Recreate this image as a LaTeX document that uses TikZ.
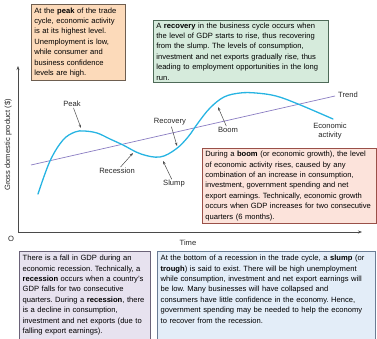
\documentclass[tikz,border=0pt]{standalone}
\usepackage{fontspec}
\setmainfont{Liberation Sans}
\usetikzlibrary{positioning, calc}
\usetikzlibrary{arrows.meta}
\usepackage{xcolor}

\definecolor{peakfill}{HTML}{FCDABA}
\definecolor{peakline}{HTML}{6E5E50}
\definecolor{recofill}{HTML}{D6EBDC}
\definecolor{recoline}{HTML}{4E6A58}
\definecolor{boomfill}{HTML}{FCE3DB}
\definecolor{boomline}{HTML}{9A5048}
\definecolor{recefill}{HTML}{E7E2EF}
\definecolor{receline}{HTML}{6A6278}
\definecolor{slumfill}{HTML}{E3EDF8}
\definecolor{slumline}{HTML}{6A7C94}
\definecolor{gdpcurve}{HTML}{27B4E2}
\definecolor{trendline}{HTML}{8A7CC2}
\definecolor{axisgray}{HTML}{4A4A4A}

\newcommand\notefont{\fontsize{7.6}{10.4}\selectfont}
\frenchspacing

\begin{document}
\begin{tikzpicture}[
        x=1pt, y=-1pt,
        note/.style={rectangle, draw, line width=0.7pt, anchor=north west, align=left, inner xsep=3pt, inner ysep=2pt, font=\notefont},
        notetext/.style={align=left, inner sep=0pt, font=\notefont},
        lbl/.style={font=\notefont, inner sep=1pt, text=black!85},
        pointer/.style={draw, axisgray, line width=0.5pt, -{Stealth[length=3.5pt, width=2.5pt]}},
        axis/.style={draw, axisgray, line width=0.6pt, -{Stealth[length=4pt, width=3pt]}}
    ]
    \useasboundingbox (0,0) rectangle (377,339);

    % Note boxes above and beside the graph
    \node[note, fill=peakfill, draw=peakline, text width=88pt, minimum height=76pt] (peaknote) at (31,4)
        {At the \textbf{peak} of the trade\\ cycle, economic activity\\ is at its highest level.\\ Unemployment is low,\\ while consumer and\\ business confidence\\ levels are high.};
    \node[note, fill=recofill, draw=recoline, text width=169pt, minimum height=62pt] (reconote) at (153,20)
        {A \textbf{recovery} in the business cycle occurs when\\ the level of GDP starts to rise, thus recovering\\ from the slump. The levels of consumption,\\ investment and net exports gradually rise, thus\\ leading to employment opportunities in the long\\ run.};
    \node[note, fill=boomfill, draw=boomline, text width=168pt, minimum height=75pt] (boomnote) at (202,148)
        {During a \textbf{boom} (or economic growth), the level\\ of economic activity rises, caused by any\\ combination of an increase in consumption,\\ investment, government spending and net\\ export earnings. Technically, economic growth\\ occurs when GDP increases for two consecutive\\ quarters (6 months).};

    % Axes
    \coordinate (origin) at (18,232);
    \coordinate (ytip) at (18,66);
    \coordinate (xtip) at (362,232);
    \path[axis] (origin) -- (ytip);
    \path[axis] (origin) -- (xtip);
    \node[lbl] (olbl) at (11,239) {O};
    \node[lbl] (timelbl) at (188,243) {Time};
    \node[lbl, rotate=90] (gdplbl) at (8,145) {Gross domestic product (\$)};

    % Trend line
    \coordinate (trendstart) at (31,165);
    \coordinate (trendend) at (335,96);
    \draw[trendline, line width=0.7pt] (trendstart) -- (trendend);
    \node[lbl, anchor=west] (trendlbl) at (337,95) {Trend};

    % Economic activity curve
    \draw[gdpcurve, line width=1.3pt, line cap=round] plot[smooth, tension=0.6] coordinates
        {(38,194) (50,161) (63,140) (75,132) (84,131) (97,133) (110,139) (123,145) (141,154) (160,157) (176,149) (188,137) (198,123) (210,108) (224,97) (240,93) (256,93) (276,96) (298,104) (333,119)};
    \node[lbl, align=center, font=\fontsize{7.6}{9.6}\selectfont] (actlbl) at (330,131) {Economic\\ activity};

    % Stage labels pointing at the curve
    \coordinate (peakpt) at (81,128);
    \coordinate (recept) at (133,153);
    \coordinate (slumppt) at (163,161);
    \coordinate (recopt) at (177,146);
    \coordinate (boompt) at (218,107);
    \node[lbl] (peaklbl) at (72,104) {Peak};
    \node[lbl] (recelbl) at (117,171) {Recession};
    \node[lbl] (slumplbl) at (174,184) {Slump};
    \node[lbl] (recolbl) at (170,122) {Recovery};
    \node[lbl] (boomlbl) at (228,130) {Boom};
    \path[pointer] (peaklbl) -- (peakpt);
    \path[pointer] (recelbl) -- (recept);
    \path[pointer] (slumplbl) -- (slumppt);
    \path[pointer] (recolbl) -- (recopt);
    \path[pointer] (boomlbl) -- (boompt);

    % Note boxes below the graph
    \node[note, fill=recefill, draw=receline, minimum width=131pt, minimum height=95pt] (recenote) at (19,251) {};
    \node[notetext, text width=126pt, below right=4pt and 3.5pt of recenote.north west] (recetext)
        {There is a fall in GDP during an\\ economic recession. Technically, a\\ \textbf{recession} occurs when a country's\\ GDP falls for two consecutive\\ quarters. During a \textbf{recession}, there\\ is a decline in consumption,\\ investment and net exports (due to\\ falling export earnings).};
    \node[note, fill=slumfill, draw=slumline, minimum width=218pt, minimum height=95pt] (slumpnote) at (157,251) {};
    \node[notetext, text width=212pt, below right=4pt and 3.5pt of slumpnote.north west] (slumptext)
        {At the bottom of a recession in the trade cycle, a \textbf{slump} (or\\ \textbf{trough}) is said to exist. There will be high unemployment\\ while consumption, investment and net export earnings will\\ be low. Many businesses will have collapsed and\\ consumers have little confidence in the economy. Hence,\\ government spending may be needed to help the economy\\ to recover from the recession.};
\end{tikzpicture}
\end{document}
